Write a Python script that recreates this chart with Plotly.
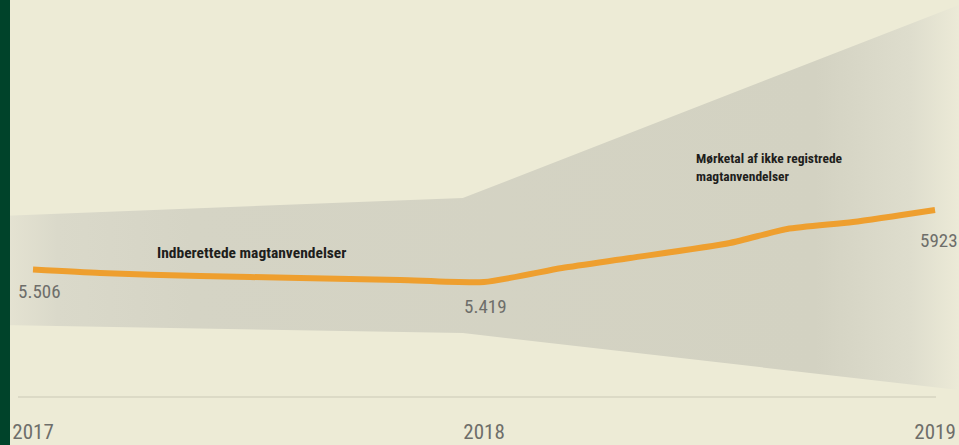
import plotly.graph_objects as go

# Data
years_line = [2017, 2017.149, 2017.370, 2017.592, 2017.814, 2018, 2018.173, 2018.324, 2018.545, 2018.672, 2018.818, 2019]
values_line = [5506, 5482, 5461, 5447, 5433, 5419, 5517, 5587, 5692, 5790, 5839, 5923]

band_x = [2016.927, 2017.953, 2019.053]
band_upper = [5881, 6007, 7358]
band_lower = [5118, 5062, 4663]

tick_years = [2017, 2018, 2019]
tick_labels = ["2017", "2018", "2019"]

value_points_x = [2017, 2018, 2019]
value_points_y = [5506, 5419, 5923]
value_texts = ["5.506", "5.419", "5923"]

BG = "#EDEBD6"
GREEN = "#00432A"
ORANGE = "#EE9F2F"
GREY_TXT = "#6E6E6A"
COND = "Liberation Sans Narrow, Roboto Condensed, DejaVu Sans Condensed, Arial Narrow, sans-serif"

W, H = 959, 445
MB = 28
plot_h = H - MB

fig = go.Figure()

# band: lower edge then upper edge filled
fig.add_trace(go.Scatter(x=band_x, y=band_lower, mode="lines", line=dict(width=0),
                         hoverinfo="skip", showlegend=False))
fig.add_trace(go.Scatter(x=band_x, y=band_upper, mode="lines", line=dict(width=0),
                         fill="tonexty",
                         fillgradient=dict(type="horizontal",
                                           colorscale=[[0, "#E6E4D3"], [0.06, "#DAD9CA"],
                                                       [0.2, "#D5D4C5"], [0.85, "#D3D2C2"],
                                                       [0.95, "#DEDDCD"], [1, "#ECEAD7"]]),
                         hoverinfo="skip", showlegend=False))

fig.add_trace(go.Scatter(x=years_line, y=values_line, mode="lines",
                         line=dict(color=ORANGE, width=6, shape="spline", smoothing=0.6),
                         showlegend=False))

# value labels
shifts = [(6, -22), (1, -24), (4, -30)]
for x, y, t, (dx, dy) in zip(value_points_x, value_points_y, value_texts, shifts):
    fig.add_annotation(x=x, y=y, text=t, showarrow=False, xshift=dx, yshift=dy,
                       font=dict(family=COND, size=19, color=GREY_TXT))

# series labels
fig.add_annotation(xref="paper", yref="paper", x=155 / W, y=1 - 253 / plot_h,
                   text="<b>Indberettede magtanvendelser</b>", showarrow=False,
                   xanchor="left", yanchor="middle",
                   font=dict(family=COND, size=15.5, color="#1E1E1C"))
fig.add_annotation(xref="paper", yref="paper", x=694 / W, y=1 - 148 / plot_h,
                   text="<b>Mørketal af ikke registrede<br>magtanvendelser</b>", showarrow=False,
                   xanchor="left", yanchor="top", align="left",
                   font=dict(family=COND, size=13.5, color="#1E1E1C"))

# baseline rule
fig.add_shape(type="line", xref="paper", yref="paper", x0=18 / W, x1=936 / W,
              y0=1 - 397 / plot_h, y1=1 - 397 / plot_h,
              line=dict(color="#DCDAC6", width=2), layer="below")

# green left strip
fig.add_shape(type="rect", xref="paper", yref="paper", x0=0, x1=10 / W, y0=-1, y1=1.1,
              fillcolor=GREEN, line=dict(width=0), layer="above")

fig.update_layout(
    width=W, height=H,
    margin=dict(l=0, r=0, t=0, b=MB),
    paper_bgcolor=BG, plot_bgcolor=BG,
    xaxis=dict(range=[2016.9268, 2019.0532], tickvals=tick_years, ticktext=tick_labels,
               showgrid=False, zeroline=False, showline=False, ticks="",
               tickfont=dict(family=COND, size=21, color=GREY_TXT), fixedrange=True),
    yaxis=dict(range=[4474, 7393], visible=False, fixedrange=True),
)

fig.write_html("out.html", config={"displayModeBar": False},
               post_script="document.body.style.margin='0';document.body.style.background='#EDEBD6';")
